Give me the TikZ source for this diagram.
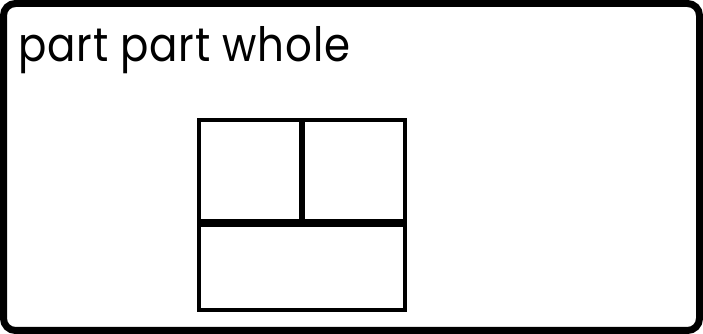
\documentclass[tikz,border=0pt]{standalone}
\usepackage{fontspec}
\setmainfont{Poppins}[LetterSpace=2]
\usepackage{graphicx}
\begin{document}
\begin{tikzpicture}[x=1pt,y=1pt,
  frame/.style={draw=black,line width=7pt,rounded corners=12pt},
  partbox/.style={draw=black,line width=4pt,rectangle,inner sep=0pt}]
\useasboundingbox (0,0) rectangle (703,334);
\draw[frame] (3.5,3.5) rectangle (699.5,330.5);
\node[anchor=base west,inner sep=0pt] (title) at (18,272) {\resizebox{332pt}{35pt}{part part whole}};
\node[partbox,minimum width=102pt,minimum height=101pt] (p1) at (250,163.5) {};
\node[partbox,minimum width=102pt,minimum height=101pt] (p2) at (354,163.5) {};
\node[partbox,minimum width=206pt,minimum height=85pt] (w) at (302,66.5) {};
\end{tikzpicture}
\end{document}
